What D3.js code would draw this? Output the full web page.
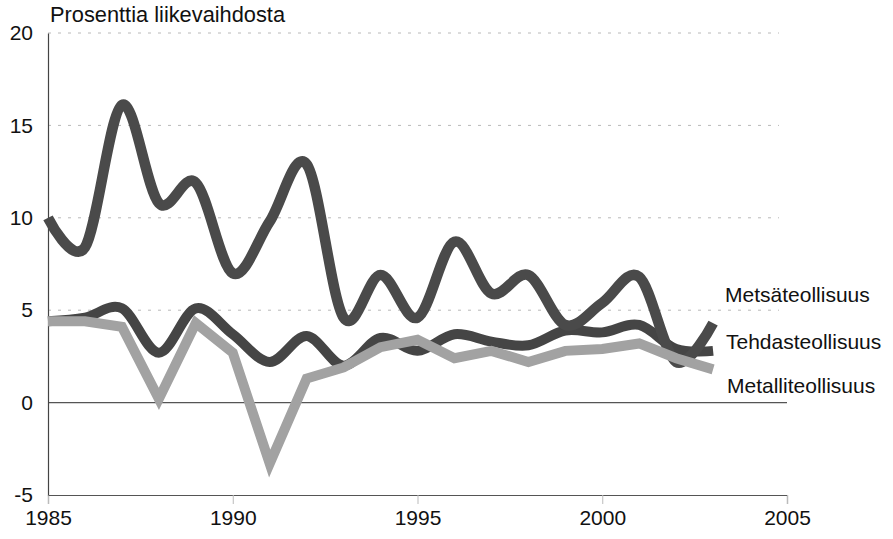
<!DOCTYPE html>
<html>
<head>
<meta charset="utf-8">
<script src="https://cdn.jsdelivr.net/npm/d3@7.9.0/dist/d3.min.js"></script>
<style>
  html, body { margin: 0; padding: 0; background: #fff; }
  svg { display: block; font-family: "Liberation Sans", Arial, sans-serif; }
</style>
</head>
<body>
<svg id="chart" width="893" height="539"></svg>
<script>
// ---- data ----
const years = [1985, 1986, 1987, 1988, 1989, 1990, 1991, 1992, 1993, 1994,
               1995, 1996, 1997, 1998, 1999, 2000, 2001, 2002, 2003];
const metsa   = [10.0, 8.4, 16.1, 10.8, 11.9, 7.0, 9.8, 12.9, 4.6, 6.9,
                 4.6, 8.7, 5.9, 6.9, 4.2, 5.4, 6.8, 2.2, 4.3];
const tehdas  = [4.4, 4.6, 5.1, 2.7, 5.1, 3.7, 2.2, 3.6, 2.0, 3.5,
                 2.8, 3.7, 3.3, 3.1, 3.9, 3.8, 4.2, 2.9, 2.8];
const metalli = [4.4, 4.4, 4.1, 0.2, 4.3, 2.7, -3.3, 1.3, 1.9, 3.0,
                 3.4, 2.4, 2.8, 2.2, 2.8, 2.9, 3.2, 2.4, 1.8];
const xTicks = [1985, 1990, 1995, 2000, 2005];
const yTicks = [-5, 0, 5, 10, 15, 20];
const seriesNames = ['Metsäteollisuus', 'Tehdasteollisuus', 'Metalliteollisuus'];
const title = 'Prosenttia liikevaihdosta';

// ---- scales ----
const svg = d3.select('#chart');
const x = d3.scaleLinear().domain([1985, 2005]).range([48, 787]);
const y = d3.scaleLinear().domain([-5, 20]).range([495, 33]);

// grid lines (dashed for positive values)
svg.append('g').selectAll('line')
  .data(yTicks.filter(v => v > 0))
  .enter().append('line')
  .attr('x1', x(1985)).attr('x2', x(2005) - 8)
  .attr('y1', d => y(d)).attr('y2', d => y(d))
  .attr('stroke', '#b8b8b8').attr('stroke-width', 1)
  .attr('stroke-dasharray', '3,7');

// zero line
svg.append('line')
  .attr('x1', x(1985)).attr('x2', x(2005))
  .attr('y1', y(0)).attr('y2', y(0))
  .attr('stroke', '#555').attr('stroke-width', 1.2);

// x axis
const xAxis = d3.axisBottom(x).tickValues(xTicks).tickFormat(d => String(d)).tickSize(9).tickPadding(6);
const gx = svg.append('g').attr('transform', `translate(0,${y(-5)})`).call(xAxis);
gx.select('.domain').attr('stroke', '#555').attr('stroke-width', 1.2);
gx.selectAll('.tick line').attr('stroke', '#bbb');
gx.selectAll('.tick text').attr('font-size', 21).attr('fill', '#111')
  .attr('font-family', '"Liberation Sans", Arial, sans-serif');

// y axis (plain hyphen for the minus, as in the original)
const yAxis = d3.axisLeft(y).tickValues(yTicks).tickFormat(d => String(d)).tickSize(0).tickPadding(15);
const gy = svg.append('g').attr('transform', `translate(${x(1985)},0)`).call(yAxis);
gy.select('.domain').attr('stroke', '#444').attr('stroke-width', 1.2);
gy.selectAll('.tick text').attr('font-size', 21).attr('fill', '#111')
  .attr('font-family', '"Liberation Sans", Arial, sans-serif');

// title
svg.append('text').attr('x', 50).attr('y', 22)
  .attr('font-size', 21.8).attr('fill', '#111').text(title);

// ---- lines ----
const smooth = d3.line().x((d, i) => x(years[i])).y(d => y(d)).curve(d3.curveCatmullRom.alpha(0));
const straight = d3.line().x((d, i) => x(years[i])).y(d => y(d));

svg.append('path').attr('d', smooth(tehdas))
  .attr('fill', 'none').attr('stroke', '#454545').attr('stroke-width', 10)
  .attr('stroke-linejoin', 'round');
svg.append('path').attr('d', smooth(metsa))
  .attr('fill', 'none').attr('stroke', '#4a4a4a').attr('stroke-width', 10.5)
  .attr('stroke-linejoin', 'round');
svg.append('path').attr('d', straight(metalli))
  .attr('fill', 'none').attr('stroke', '#a2a2a2').attr('stroke-width', 10)
  .attr('stroke-linejoin', 'miter');

// series labels
const labelPos = [[725, 302], [726, 349], [727, 393]];
svg.append('g').selectAll('text')
  .data(seriesNames)
  .enter().append('text')
  .attr('x', (d, i) => labelPos[i][0]).attr('y', (d, i) => labelPos[i][1])
  .attr('font-size', 21).attr('fill', '#111')
  .text(d => d);
</script>
</body>
</html>
